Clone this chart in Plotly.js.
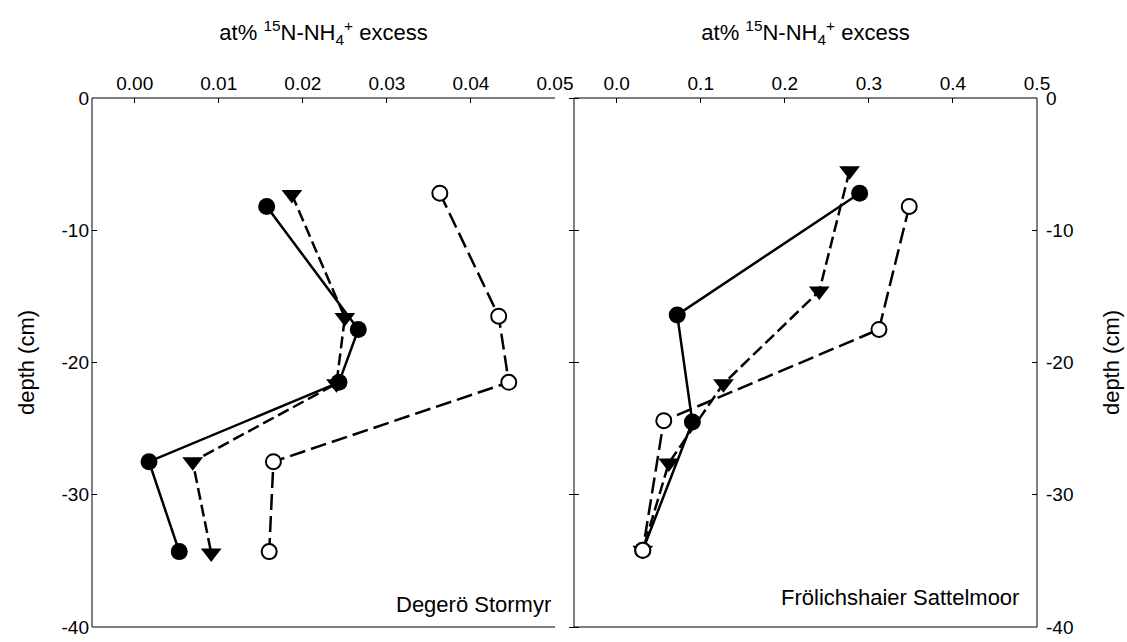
<!DOCTYPE html>
<html>
<head>
<meta charset="utf-8">
<script src="https://cdn.plot.ly/plotly-3.0.1.min.js"></script>
<style>html,body{margin:0;padding:0;background:#fff;}#chart{width:1127px;height:642px;}</style>
</head>
<body>
<div id="chart"></div>
<script>
// Degerö Stormyr (left panel)
const degFilledX = [0.0157, 0.0266, 0.0243, 0.0017, 0.0053];
const degFilledY = [-8.2, -17.5, -21.5, -27.5, -34.3];
const degTriX = [0.0187, 0.0250, 0.0240, 0.0069, 0.0091];
const degTriY = [-7.3, -16.6, -21.6, -27.5, -34.4];
const degOpenX = [0.0363, 0.0433, 0.0445, 0.0165, 0.0160];
const degOpenY = [-7.2, -16.5, -21.5, -27.5, -34.3];

// Frölichshaier Sattelmoor (right panel)
const froFilledX = [0.289, 0.072, 0.090, 0.031];
const froFilledY = [-7.2, -16.4, -24.5, -34.2];
const froTriX = [0.277, 0.241, 0.127, 0.062, 0.031];
const froTriY = [-5.5, -14.6, -21.6, -27.6, -34.2];
const froOpenX = [0.348, 0.312, 0.056, 0.031];
const froOpenY = [-8.2, -17.5, -24.4, -34.2];

const leftTicks = [0, 0.01, 0.02, 0.03, 0.04, 0.05];
const leftTickText = ['0.00', '0.01', '0.02', '0.03', '0.04', '0.05'];
const rightTicks = [0, 0.1, 0.2, 0.3, 0.4, 0.5];
const rightTickText = ['0.0', '0.1', '0.2', '0.3', '0.4', '0.5'];
const depthTicks = [0, -10, -20, -30, -40];
const depthTickText = ['0', '-10', '-20', '-30', '-40'];

const FONT = 'Liberation Sans, Arial, sans-serif';
const lw = 2.5;

function triTrace(x, y, xa, ya) {
  return {x, y, xaxis: xa, yaxis: ya, mode: 'lines+markers', type: 'scatter',
    line: {color: '#000', width: lw, dash: '12px,5px'},
    marker: {symbol: 'triangle-down', size: 18, color: '#000', line: {width: 0}}, showlegend: false};
}
function filledTrace(x, y, xa, ya) {
  return {x, y, xaxis: xa, yaxis: ya, mode: 'lines+markers', type: 'scatter',
    line: {color: '#000', width: lw},
    marker: {symbol: 'circle', size: 17, color: '#000', line: {width: 0}}, showlegend: false};
}
function openTrace(x, y, xa, ya) {
  return {x, y, xaxis: xa, yaxis: ya, mode: 'lines+markers', type: 'scatter',
    line: {color: '#000', width: lw, dash: '16px,6px'},
    marker: {symbol: 'circle', size: 15, color: '#fff', line: {width: 2, color: '#000'}}, showlegend: false};
}

const data = [
  triTrace(degTriX, degTriY, 'x', 'y'),
  filledTrace(degFilledX, degFilledY, 'x', 'y'),
  openTrace(degOpenX, degOpenY, 'x', 'y'),
  triTrace(froTriX, froTriY, 'x2', 'y2'),
  filledTrace(froFilledX, froFilledY, 'x2', 'y2'),
  // drawn on the overlaying depth axis (same range as y2) so its crossing ticks render
  openTrace(froOpenX, froOpenY, 'x2', 'y3')
];

const titleText = 'at% <sup>15</sup>N-NH<sub>4</sub><sup>+</sup> excess';
const tickFont = {family: FONT, size: 19, color: '#000'};
const titleFont = {family: FONT, size: 22, color: '#000'};
const yTitleFont = {family: FONT, size: 22, color: '#000'};

const baseX = {side: 'top', showline: false, ticks: 'inside', ticklen: 5, tickcolor: '#000',
  showgrid: false, zeroline: false, tickfont: tickFont, tickmode: 'array'};
const baseY = {range: [-40, 0], tickvals: depthTicks, ticktext: depthTickText, tickmode: 'array',
  showline: false, ticks: 'inside', ticklen: 5, tickcolor: '#000',
  showgrid: false, zeroline: false, tickfont: tickFont};

function frame(xr, yr, x0, y0, x1, y1) {
  return {type: 'line', xref: xr, yref: yr, x0, y0, x1, y1, line: {color: '#000', width: 1}, layer: 'above'};
}

const layout = {
  width: 1127, height: 642,
  margin: {l: 92, r: 90, t: 98, b: 15},
  paper_bgcolor: '#fff', plot_bgcolor: '#fff',
  font: {family: FONT, size: 19, color: '#000'},
  xaxis: Object.assign({}, baseX, {domain: [0, 0.48995], anchor: 'y', range: [-0.00508, 0.05],
    tickvals: leftTicks, ticktext: leftTickText, ticklabelstandoff: 3,
    title: {text: titleText, font: titleFont, standoff: 26}}),
  yaxis: Object.assign({}, baseY, {anchor: 'x', side: 'left', ticklabelstandoff: 2,
    title: {text: 'depth (cm)', font: yTitleFont, standoff: 20}}),
  xaxis2: Object.assign({}, baseX, {domain: [0.51005, 1], anchor: 'y2', range: [-0.0508, 0.5],
    tickvals: rightTicks, ticktext: rightTickText, ticklabelstandoff: 3,
    title: {text: titleText, font: titleFont, standoff: 26}}),
  yaxis2: Object.assign({}, baseY, {anchor: 'x2', side: 'right', mirror: 'ticks', ticklabelstandoff: 8,
    title: {text: 'depth (cm)', font: yTitleFont, standoff: 31}}),
  yaxis3: {overlaying: 'y2', anchor: 'free', position: 0.5153, side: 'left', range: [-40, 0],
    tickvals: depthTicks, tickmode: 'array', ticks: 'outside', ticklen: 10, tickcolor: '#000',
    showline: false, showgrid: false, zeroline: false, showticklabels: false},
  shapes: [
    frame('x domain', 'y domain', 0, 1, 1, 1),
    frame('x domain', 'y domain', 0, 0, 1, 0),
    frame('x domain', 'y domain', 0, 0, 0, 1),
    frame('x2 domain', 'y2 domain', 0, 1, 1, 1),
    frame('x2 domain', 'y2 domain', 0, 0, 1, 0),
    frame('x2 domain', 'y2 domain', 0, 0, 0, 1),
    frame('x2 domain', 'y2 domain', 1, 0, 1, 1)
  ],
  annotations: [
    {text: 'Degerö Stormyr', xref: 'x domain', yref: 'y domain', x: 0.995, y: 0.042,
      xanchor: 'right', yanchor: 'middle', showarrow: false, font: {family: FONT, size: 22, color: '#000'}},
    {text: 'Frölichshaier Sattelmoor', xref: 'x2 domain', yref: 'y2 domain', x: 0.965, y: 0.055,
      xanchor: 'right', yanchor: 'middle', showarrow: false, font: {family: FONT, size: 22, color: '#000'}}
  ]
};

Plotly.newPlot('chart', data, layout, {displayModeBar: false, staticPlot: true});
</script>
</body>
</html>
